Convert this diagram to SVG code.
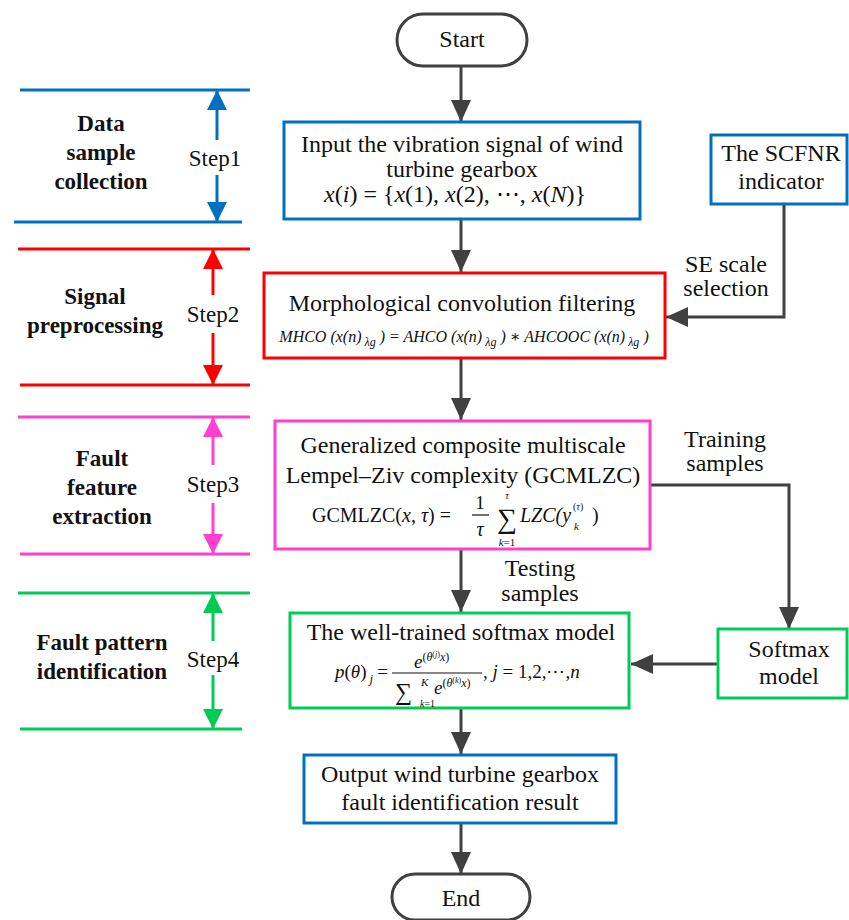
<svg xmlns="http://www.w3.org/2000/svg" width="849" height="920" viewBox="0 0 849 920" font-family="'Liberation Serif', 'DejaVu Serif', serif">
<style>
text{font-family:'Liberation Serif','DejaVu Serif',serif;fill:#111}
.t{font-size:24px;text-anchor:middle}
.b{font-size:23px;font-weight:bold;text-anchor:middle}
.s{font-size:23px;text-anchor:middle}
.i{font-style:italic}
.box{fill:#fff;stroke-width:3}
.conn{fill:none;stroke:#404040;stroke-width:3}
.blue{stroke:#0070C0}.red{stroke:#FF0000}.pink{stroke:#FF3FCF}.green{stroke:#00CC55}
.ln{stroke-width:3;fill:none}
</style>
<defs>
<marker id="ah" viewBox="0 0 22 20" refX="22" refY="10" markerWidth="22" markerHeight="20" markerUnits="userSpaceOnUse" orient="auto"><path d="M0,0 L22,10 L0,20 z" fill="#404040"/></marker>
<marker id="aBlue" viewBox="0 0 20 20" refX="20" refY="10" markerWidth="20" markerHeight="20" markerUnits="userSpaceOnUse" orient="auto"><path d="M0,0 L20,10 L0,20 z" fill="#0070C0"/></marker>
<marker id="aRed" viewBox="0 0 20 20" refX="20" refY="10" markerWidth="20" markerHeight="20" markerUnits="userSpaceOnUse" orient="auto"><path d="M0,0 L20,10 L0,20 z" fill="#FF0000"/></marker>
<marker id="aPink" viewBox="0 0 20 20" refX="20" refY="10" markerWidth="20" markerHeight="20" markerUnits="userSpaceOnUse" orient="auto"><path d="M0,0 L20,10 L0,20 z" fill="#FF3FCF"/></marker>
<marker id="aGreen" viewBox="0 0 20 20" refX="20" refY="10" markerWidth="20" markerHeight="20" markerUnits="userSpaceOnUse" orient="auto"><path d="M0,0 L20,10 L0,20 z" fill="#00CC55"/></marker>
</defs>

<g id="steps">
<g id="step1">
<line class="ln blue" x1="20" y1="90" x2="250" y2="90"/>
<line class="ln blue" x1="14" y1="222" x2="242" y2="222"/>
<path class="ln blue" d="M217,140 V90" marker-end="url(#aBlue)"/>
<path class="ln blue" d="M217,175 V222" marker-end="url(#aBlue)"/>
<text class="s" x="215" y="166">Step1</text>
<text class="b" x="101" y="131">Data</text>
<text class="b" x="101" y="160">sample</text>
<text class="b" x="101" y="189">collection</text>
</g>
<g id="step2">
<line class="ln red" x1="18" y1="249" x2="250" y2="249"/>
<line class="ln red" x1="20" y1="385" x2="250" y2="385"/>
<path class="ln red" d="M213,295 V249" marker-end="url(#aRed)"/>
<path class="ln red" d="M213,333 V385" marker-end="url(#aRed)"/>
<text class="s" x="213" y="322">Step2</text>
<text class="b" x="95" y="304">Signal</text>
<text class="b" x="95" y="333">preprocessing</text>
</g>
<g id="step3">
<line class="ln pink" x1="18" y1="417" x2="250" y2="417"/>
<line class="ln pink" x1="20" y1="554" x2="250" y2="554"/>
<path class="ln pink" d="M213,465 V417" marker-end="url(#aPink)"/>
<path class="ln pink" d="M213,503 V554" marker-end="url(#aPink)"/>
<text class="s" x="213" y="492">Step3</text>
<text class="b" x="102" y="466">Fault</text>
<text class="b" x="102" y="495">feature</text>
<text class="b" x="102" y="524">extraction</text>
</g>
<g id="step4">
<line class="ln green" x1="18" y1="593" x2="250" y2="593"/>
<line class="ln green" x1="20" y1="729" x2="242" y2="729"/>
<path class="ln green" d="M213,641 V593" marker-end="url(#aGreen)"/>
<path class="ln green" d="M213,675 V729" marker-end="url(#aGreen)"/>
<text class="s" x="213" y="667">Step4</text>
<text class="b" x="102" y="650">Fault pattern</text>
<text class="b" x="102" y="679">identification</text>
</g>
</g>

<g id="connectors">
<path class="conn" d="M461,66 V122" marker-end="url(#ah)"/>
<path class="conn" d="M461,220 V272" marker-end="url(#ah)"/>
<path class="conn" d="M461,358 V420" marker-end="url(#ah)"/>
<path class="conn" d="M461,550 V612" marker-end="url(#ah)"/>
<path class="conn" d="M461,708 V754" marker-end="url(#ah)"/>
<path class="conn" d="M461,823 V874" marker-end="url(#ah)"/>
<path class="conn" d="M784,204 V317 H666" marker-end="url(#ah)"/>
<path class="conn" d="M651,485 H789 V629" marker-end="url(#ah)"/>
<path class="conn" d="M718,664 H631" marker-end="url(#ah)"/>
<text class="t" x="726" y="272">SE scale</text>
<text class="t" x="726" y="296">selection</text>
<text class="t" x="725" y="447">Training</text>
<text class="t" x="725" y="471">samples</text>
<text class="t" x="540" y="576">Testing</text>
<text class="t" x="540" y="601">samples</text>
</g>

<g id="start">
<rect class="box" x="397" y="14" width="130" height="52" rx="26" stroke="#404040"/>
<text class="t" x="462" y="47">Start</text>
</g>

<g id="input">
<rect class="box blue" x="284" y="122" width="356" height="97"/>
<text class="t" x="462" y="152">Input the vibration signal of wind</text>
<text class="t" x="462" y="177">turbine gearbox</text>
<text class="t" x="455" y="202"><tspan class="i">x</tspan>(<tspan class="i">i</tspan>) = {<tspan class="i">x</tspan>(1), <tspan class="i">x</tspan>(2), ⋯, <tspan class="i">x</tspan>(<tspan class="i">N</tspan>)}</text>
</g>

<g id="scfnr">
<rect class="box blue" x="711" y="135" width="136" height="69"/>
<text class="t" x="781" y="161">The SCFNR</text>
<text class="t" x="781" y="189">indicator</text>
</g>

<g id="morph">
<rect class="box red" x="264" y="273" width="401" height="85"/>
<text class="t" x="462" y="311">Morphological convolution filtering</text>
<text x="464" y="342" text-anchor="middle" style="font-size:16px;font-style:italic">MHCO (x(n)<tspan font-size="12" dy="4"> λg</tspan><tspan dy="-4"> ) = AHCO (x(n)</tspan><tspan font-size="12" dy="4"> λg</tspan><tspan dy="-4"> ) ∗ AHCOOC  (x(n)</tspan><tspan font-size="12" dy="4"> λg</tspan><tspan dy="-4"> )</tspan></text>
</g>

<g id="gcmlzc">
<rect class="box pink" x="275" y="421" width="375" height="128"/>
<text class="t" x="463" y="453">Generalized composite multiscale</text>
<text class="t" x="463" y="483">Lempel–Ziv complexity (GCMLZC)</text>
<text x="312" y="522" style="font-size:20px">GCMLZC(<tspan class="i">x</tspan>, <tspan class="i">τ</tspan>) =</text>
<text x="480" y="509" style="font-size:19px" text-anchor="middle">1</text>
<line x1="472" y1="515" x2="489" y2="515" stroke="#111" stroke-width="1.2"/>
<text x="480" y="536" style="font-size:20px;font-style:italic" text-anchor="middle">τ</text>
<text x="507" y="528" style="font-size:28px" text-anchor="middle">∑</text>
<text x="507" y="499" style="font-size:10px;font-style:italic" text-anchor="middle">τ</text>
<text x="507" y="546" style="font-size:11px" text-anchor="middle"><tspan class="i">k</tspan>=1</text>
<text x="520" y="522" style="font-size:20px;font-style:italic">LZC(y</text>
<text x="573" y="510" style="font-size:10px">(<tspan class="i">τ</tspan>)</text>
<text x="574" y="530" style="font-size:11px;font-style:italic">k</text>
<text x="592" y="522" style="font-size:20px">)</text>
</g>

<g id="softmaxTrained">
<rect class="box green" x="290" y="613" width="339" height="95"/>
<text class="t" x="461" y="640">The well-trained softmax model</text>
<text x="335" y="678" style="font-size:19px"><tspan class="i">p</tspan>(<tspan class="i">θ</tspan>)<tspan font-size="13" class="i" dx="3" dy="5">j</tspan><tspan dy="-5" dx="4">=</tspan></text>
<line x1="392" y1="673" x2="482" y2="673" stroke="#111" stroke-width="1.2"/>
<text x="414" y="668" style="font-size:19px;font-style:italic">e<tspan font-size="12" font-style="normal" dy="-7">(<tspan class="i">θ</tspan><tspan font-size="8" dy="-4">(<tspan class="i">j</tspan>)</tspan><tspan class="i" dy="4">x</tspan>)</tspan></text>
<text x="395" y="700" style="font-size:24px">∑</text>
<text x="421" y="686" style="font-size:11px;font-style:italic">K</text>
<text x="420" y="707" style="font-size:10px"><tspan class="i">k</tspan>=1</text>
<text x="434" y="694" style="font-size:19px;font-style:italic">e<tspan font-size="12" font-style="normal" dy="-7">(<tspan class="i">θ</tspan><tspan font-size="8" dy="-4">(<tspan class="i">k</tspan>)</tspan><tspan class="i" dy="4">x</tspan>)</tspan></text>
<text x="483" y="678" style="font-size:19px">,    <tspan class="i">j</tspan> = 1,2,⋯,<tspan class="i">n</tspan></text>
</g>

<g id="softmax">
<rect class="box green" x="718" y="629" width="129" height="69"/>
<text class="t" x="789" y="657">Softmax</text>
<text class="t" x="789" y="684">model</text>
</g>

<g id="output">
<rect class="box blue" x="304" y="755" width="312" height="68"/>
<text class="t" x="460" y="782">Output wind turbine gearbox</text>
<text class="t" x="460" y="810">fault identification result</text>
</g>

<g id="end">
<rect class="box" x="392" y="874" width="138" height="46" rx="23" stroke="#404040"/>
<text class="t" x="461" y="906">End</text>
</g>
</svg>
